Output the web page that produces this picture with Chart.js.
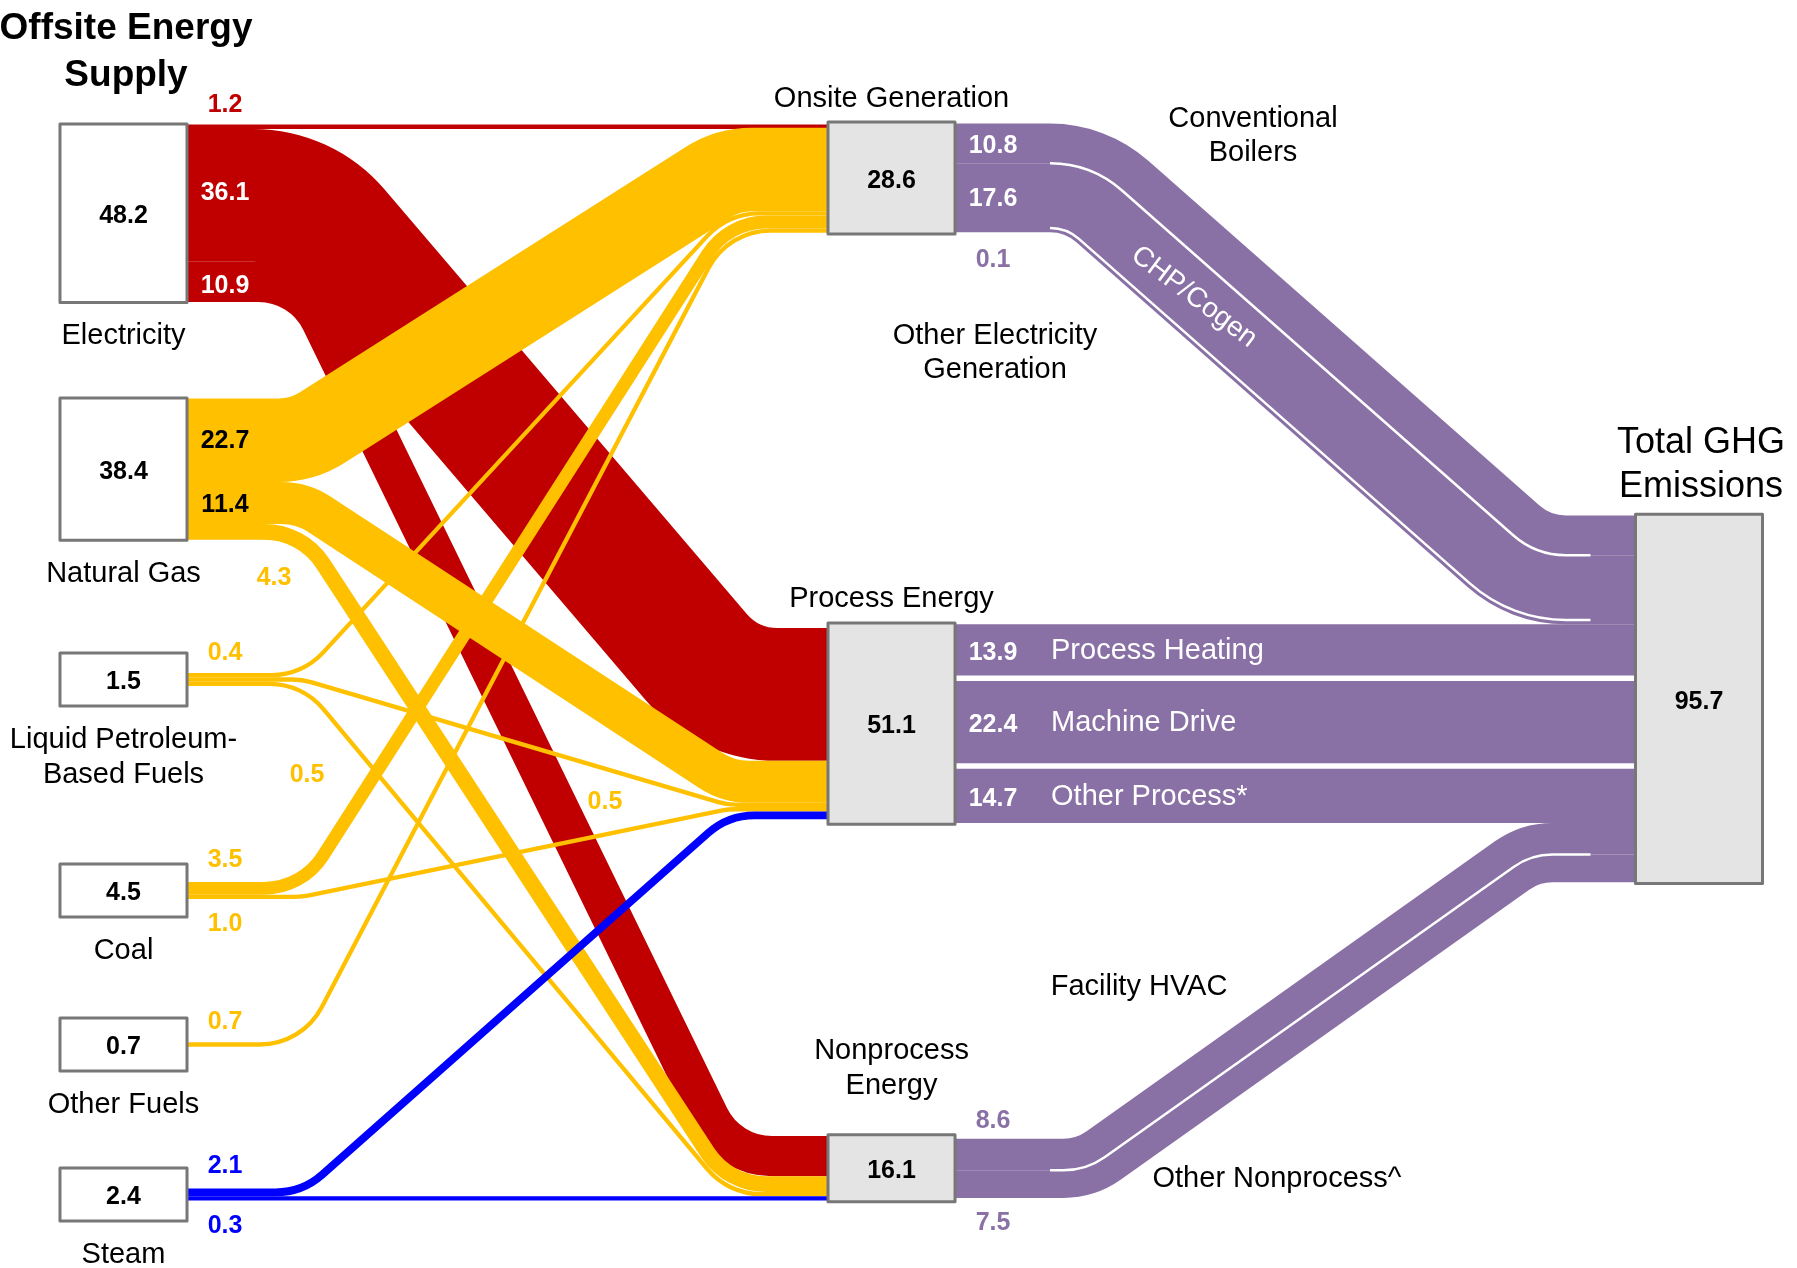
<!DOCTYPE html>
<html>
<head>
<meta charset="utf-8">
<script src="https://cdn.jsdelivr.net/npm/chart.js@4.4.1/dist/chart.umd.min.js"></script>
<style>
html,body{margin:0;padding:0;background:#ffffff;}
#wrap{position:relative;width:1797px;height:1268px;}
</style>
</head>
<body>
<div id="wrap"><canvas id="c" width="1797" height="1268"></canvas></div>
<script>
// ================= DATA =================
const chartTitle    = 'Offsite Energy\nSupply';
const sourceNames   = ['Electricity', 'Natural Gas', 'Liquid Petroleum-\nBased Fuels', 'Coal', 'Other Fuels', 'Steam'];
const sourceValues  = [48.2, 38.4, 1.5, 4.5, 0.7, 2.4];
const middleNames   = ['Onsite Generation', 'Process Energy', 'Nonprocess\nEnergy'];
const middleValues  = [28.6, 51.1, 16.1];
const totalName     = 'Total GHG\nEmissions';
const totalValue    = 95.7;
// flows from each source (same order as sourceNames) into the middle nodes
const toOnsite      = [1.2, 22.7, 0.4, 3.5, 0.7, 0];
const toProcess     = [36.1, 11.4, 0.5, 1.0, 0, 2.1];
const toNonprocess  = [10.9, 4.3, 0.5, 0, 0, 0.3];
// end uses: flows from middle nodes into total
const endUseNames   = ['Conventional\nBoilers', 'CHP/Cogen', 'Other Electricity\nGeneration', 'Process Heating', 'Machine Drive', 'Other Process*', 'Facility HVAC', 'Other Nonprocess^'];
const endUseFrom    = [0, 0, 0, 1, 1, 1, 2, 2];
const endUseValues  = [10.8, 17.6, 0.1, 13.9, 22.4, 14.7, 8.6, 7.5];

// ================= LAYOUT / STYLE =================
const Y_MAX = 344.57;                 // value units covered by the canvas height
const X_MIN = -0.1608, X_MAX = 2.1790; // column units
const COL_X = [0, 1, 2.0514];
const BOX_W = 0.1654;
const SOURCE_TOP = [33.70, 108.15, 177.45, 234.78, 276.63, 317.39];
const MIDDLE_TOP = [33.15, 169.29, 308.37];
const TOTAL_TOP = 139.72;
const MIN_FLOW = 1.17, MIN_BOX = 14.4, SRC_PAD = 0.27, MID_PAD = 0.68;
const MID_OUT_GAP = [0, 1.5, 0];
const MID_LABEL_GAP = [23, 24, 49];
const LEFT_BEND = [0.150, 0.130];
const RIGHT_BEND = [0.170, 0.137];
const SOURCE_COLORS = ['#C00000', '#FFC000', '#FFC000', '#FFC000', '#FFC000', '#0000FF'];
const PURPLE = '#8970A5';
const BORDER = '#777777';
const MID_FILL = '#E4E4E4';
const FONT = "'Liberation Sans', Arial, Helvetica, sans-serif";
const BOLD_DY = 3;
const ROT_LABEL_DEG = 37;
// label placement for left flows (in order of generation): [anchor, dx px, dy px, color]
const LEFT_LABELS = [
  ['src', 38, -25, '#C00000'],
  ['src', 38, -5, '#FFFFFF'],
  ['src', 38, 1, '#FFFFFF'],
  ['src', 38, -2, '#000000'],
  ['src', 38, -1, '#000000'],
  ['src', 87, 43, '#FFC000'],
  ['src', 38, -25, '#FFC000'],
  ['tgt', -223, -6, '#FFC000'],
  ['src', 120, 88, '#FFC000'],
  ['src', 38, -31, '#FFC000'],
  ['src', 38, 24, '#FFC000'],
  ['src', 38, -25, '#FFC000'],
  ['src', 38, -29, '#0000FF'],
  ['src', 38, 25, '#0000FF']
];
const RIGHT_LABELS = [[0, '#FFFFFF'], [0, '#FFFFFF'], [27, PURPLE], [0, '#FFFFFF'], [0, '#FFFFFF'], [0, '#FFFFFF'], [-36, PURPLE], [36, PURPLE]];
const END_LABEL_POS = [[1.4707, 32.3], null, [1.1348, 91.3], null, null, null, [1.3223, 268.2], [1.5019, 320.4]];
const TITLE_POS = [0.0033, 7.75];

function centerPath(ctx, xs, xt, y0, y1, a, b, R, d) {
  ctx.beginPath();
  if (Math.abs(y1 - y0) < 1.5) { ctx.moveTo(xs, y0 + d); ctx.lineTo(xt, y0 + d); return; }
  const c1x = xs + a, c2x = xt - b;
  const dx = c2x - c1x, dy = y1 - y0;
  const L = Math.hypot(dx, dy);
  const ux = dx / L, uy = dy / L;
  const nx = -uy, ny = ux;
  const px = c1x + d * nx, py = y0 + d * ny;
  const s1 = (y0 + d - py) / uy, s2 = (y1 + d - py) / uy;
  const k1x = px + s1 * ux, k1y = y0 + d;
  const k2x = px + s2 * ux, k2y = y1 + d;
  const theta = Math.atan2(Math.abs(dy), dx);
  const tanH = Math.tan(theta / 2);
  const sg = dy > 0 ? 1 : -1;
  const Lk = Math.hypot(k2x - k1x, k2y - k1y);
  let r1 = R - sg * d, r2 = R + sg * d;
  r1 = Math.max(0, Math.min(r1, Math.min(k1x - xs, Lk / 2) * 0.98 / tanH));
  r2 = Math.max(0, Math.min(r2, Math.min(xt - k2x, Lk / 2) * 0.98 / tanH));
  ctx.moveTo(xs, y0 + d);
  ctx.arcTo(k1x, k1y, k2x, k2y, r1);
  ctx.arcTo(k2x, k2y, xt, y1 + d, r2);
  ctx.lineTo(xt, y1 + d);
}

function drawLines(ctx, text, x, y, lh, align) {
  text.split('\n').forEach((t, i) => { ctx.textAlign = align || 'center'; ctx.fillText(t, x, y + i * lh); });
}

const sankeyPlugin = {
  id: 'sankeyDraw',
  afterDatasetsDraw(chart) {
    const ctx = chart.ctx, sx = chart.scales.x, sy = chart.scales.y;
    const X = v => sx.getPixelForValue(v), Y = v => sy.getPixelForValue(v);
    const H = v => Math.abs(Y(v) - Y(0));
    const W = v => Math.abs(X(v) - X(0));
    const th = v => Math.max(H(v), H(MIN_FLOW));

    const targetsArr = [toOnsite, toProcess, toNonprocess];
    const left = [];
    sourceNames.forEach((n, i) => targetsArr.forEach((arr, j) => { if (arr[i] > 0) left.push({ s: i, t: j, v: arr[i], w: th(arr[i]) }); }));
    const right = endUseValues.map((v, k) => ({ k, s: endUseFrom[k], v, w: th(v) }));

    const src = sourceNames.map((n, i) => {
      const outs = left.filter(l => l.s === i);
      const sum = outs.reduce((a, l) => a + l.w, 0);
      const h = Math.max(sum + H(SRC_PAD), H(MIN_BOX));
      const top = Y(SOURCE_TOP[i]);
      let y = top + (h - sum) / 2;
      outs.forEach(l => { l.y0 = y; y += l.w; });
      return { x0: X(COL_X[0] - BOX_W / 2), x1: X(COL_X[0] + BOX_W / 2), top, h };
    });
    const mid = middleNames.map((n, j) => {
      const ins = left.filter(l => l.t === j);
      const outs = right.filter(r => r.s === j);
      const gap = H(MID_OUT_GAP[j]);
      const sumIn = ins.reduce((a, l) => a + l.w, 0);
      const sumOut = outs.reduce((a, r) => a + r.w, 0) + gap * (outs.length - 1);
      const h = Math.max(sumIn, sumOut) + H(MID_PAD);
      const top = Y(MIDDLE_TOP[j]);
      let y = top + (h - sumIn) / 2; ins.forEach(l => { l.y1 = y; y += l.w; });
      y = top + (h - sumOut) / 2; outs.forEach(r => { r.y0 = y; y += r.w + gap; });
      return { x0: X(COL_X[1] - BOX_W / 2), x1: X(COL_X[1] + BOX_W / 2), top, h };
    });
    let sumT = 0;
    right.forEach((r, i) => { sumT += r.w; if (i > 0 && right[i - 1].s === r.s) sumT += H(MID_OUT_GAP[r.s]); });
    const tot = { x0: X(COL_X[2] - BOX_W / 2), x1: X(COL_X[2] + BOX_W / 2), top: Y(TOTAL_TOP), h: sumT + H(MID_PAD) };
    let yy = tot.top + (tot.h - sumT) / 2;
    right.forEach((r, i) => { if (i > 0 && right[i - 1].s === r.s) yy += H(MID_OUT_GAP[r.s]); r.y1 = yy; yy += r.w; });

    ctx.save();
    ctx.lineCap = 'butt'; ctx.lineJoin = 'round';
    // left flows
    left.forEach(l => {
      const xs = src[l.s].x1, xt = mid[l.t].x0;
      const R = Math.max(70, l.w / 2 + 40);
      centerPath(ctx, xs, xt, l.y0 + l.w / 2, l.y1 + l.w / 2, W(LEFT_BEND[0]), W(LEFT_BEND[1]), R, 0);
      ctx.strokeStyle = SOURCE_COLORS[l.s]; ctx.lineWidth = l.w; ctx.stroke();
    });
    // right flows, grouped by middle node
    middleNames.forEach((n, j) => {
      const strips = right.filter(r => r.s === j);
      const first = strips[0], last = strips[strips.length - 1];
      const g0 = (first.y0 + last.y0 + last.w) / 2, g1 = (first.y1 + last.y1 + last.w) / 2;
      const gT = last.y0 + last.w - first.y0;
      const R = Math.max(70, gT / 2 + 40);
      const xs = mid[j].x1, xt = tot.x0, a = W(RIGHT_BEND[0]), b = W(RIGHT_BEND[1]);
      strips.forEach(r => {
        const d = r.y0 + r.w / 2 - g0;
        r.geo = { xs, xt, g0, g1, a, b, R, d };
        centerPath(ctx, xs, xt, g0, g1, a, b, R, d);
        ctx.strokeStyle = PURPLE; ctx.lineWidth = r.w; ctx.stroke();
      });
      if (MID_OUT_GAP[j] === 0) {
        strips.forEach((r, i) => {
          if (i === 0) return;
          ctx.save();
          ctx.beginPath(); ctx.rect(xs + 95, 0, (xt - 45) - (xs + 95), chart.height); ctx.clip();
          centerPath(ctx, xs, xt, g0, g1, a, b, R, r.y0 - g0);
          ctx.strokeStyle = '#FFFFFF'; ctx.lineWidth = 2.5; ctx.stroke();
          ctx.restore();
        });
      }
    });

    // boxes
    const box = (n, fill) => {
      ctx.fillStyle = fill; ctx.fillRect(n.x0, n.top, n.x1 - n.x0, n.h);
      ctx.strokeStyle = BORDER; ctx.lineWidth = 3; ctx.strokeRect(n.x0, n.top, n.x1 - n.x0, n.h);
    };
    src.forEach(n => box(n, '#FFFFFF'));
    mid.forEach(n => box(n, MID_FILL));
    box(tot, MID_FILL);

    ctx.textBaseline = 'middle';
    // title
    ctx.fillStyle = '#000'; ctx.font = 'bold 37px ' + FONT;
    drawLines(ctx, chartTitle, X(TITLE_POS[0]), Y(TITLE_POS[1]), 47);
    // node names & values
    ctx.font = '29px ' + FONT;
    src.forEach((n, i) => drawLines(ctx, sourceNames[i], (n.x0 + n.x1) / 2, n.top + n.h + 34, 35));
    mid.forEach((n, j) => {
      const lines = middleNames[j].split('\n').length;
      drawLines(ctx, middleNames[j], (n.x0 + n.x1) / 2, n.top - MID_LABEL_GAP[j] - (lines - 1) * 35, 35);
    });
    ctx.font = '36px ' + FONT;
    drawLines(ctx, totalName, (tot.x0 + tot.x1) / 2 + 2, tot.top - 27 - 44, 44);
    ctx.font = 'bold 25px ' + FONT;
    src.forEach((n, i) => { ctx.textAlign = 'center'; ctx.fillText(sourceValues[i].toFixed(1), (n.x0 + n.x1) / 2, n.top + n.h / 2 + BOLD_DY); });
    mid.forEach((n, j) => { ctx.textAlign = 'center'; ctx.fillText(middleValues[j].toFixed(1), (n.x0 + n.x1) / 2, n.top + n.h / 2 + BOLD_DY); });
    ctx.fillText(totalValue.toFixed(1), (tot.x0 + tot.x1) / 2, tot.top + tot.h / 2 + BOLD_DY);

    // left flow labels
    left.forEach((l, i) => {
      const sp = LEFT_LABELS[i];
      ctx.fillStyle = sp[3]; ctx.textAlign = 'center';
      if (sp[0] === 'src') ctx.fillText(l.v.toFixed(1), src[l.s].x1 + sp[1], l.y0 + l.w / 2 + sp[2] + BOLD_DY);
      else ctx.fillText(l.v.toFixed(1), mid[l.t].x0 + sp[1], l.y1 + l.w / 2 + sp[2] + BOLD_DY);
    });
    // right flow labels
    right.forEach((r, k) => {
      const sp = RIGHT_LABELS[k];
      ctx.font = 'bold 25px ' + FONT;
      ctx.fillStyle = sp[1]; ctx.textAlign = 'center';
      ctx.fillText(r.v.toFixed(1), mid[r.s].x1 + 38, r.y0 + r.w / 2 + sp[0] + BOLD_DY);
      ctx.font = '29px ' + FONT;
      if (MID_OUT_GAP[r.s] > 0) {
        ctx.fillStyle = '#FFFFFF'; ctx.textAlign = 'left';
        ctx.fillText(endUseNames[k], mid[r.s].x1 + 96, r.y0 + r.w / 2 + 1);
      } else if (END_LABEL_POS[k]) {
        ctx.fillStyle = '#000';
        drawLines(ctx, endUseNames[k], X(END_LABEL_POS[k][0]), Y(END_LABEL_POS[k][1]), 34);
      } else {
        // rotated label along its strip
        const g = r.geo;
        const c1x = g.xs + g.a, c2x = g.xt - g.b;
        const ang = Math.atan2(g.g1 - g.g0, c2x - c1x);
        const f = 0.27;
        const cx = c1x + (c2x - c1x) * f, cy = g.g0 + (g.g1 - g.g0) * f;
        const nx = -Math.sin(ang), ny = Math.cos(ang);
        ctx.save();
        ctx.translate(cx + g.d * nx, cy + g.d * ny);
        ctx.rotate(ROT_LABEL_DEG * Math.PI / 180);
        ctx.font = '28px ' + FONT;
        ctx.fillStyle = '#FFFFFF'; ctx.textAlign = 'center';
        ctx.fillText(endUseNames[k], 0, 0);
        ctx.restore();
      }
    });
    ctx.restore();
  }
};

const nodePoints = [];
sourceNames.forEach((n, i) => nodePoints.push({ x: COL_X[0], y: SOURCE_TOP[i] }));
middleNames.forEach((n, j) => nodePoints.push({ x: COL_X[1], y: MIDDLE_TOP[j] }));
nodePoints.push({ x: COL_X[2], y: TOTAL_TOP });

new Chart(document.getElementById('c'), {
  type: 'scatter',
  data: { datasets: [{ data: nodePoints, pointRadius: 0, pointHoverRadius: 0, showLine: false }] },
  options: {
    responsive: false, animation: false, devicePixelRatio: 1,
    layout: { padding: 0 },
    events: [],
    plugins: { legend: { display: false }, tooltip: { enabled: false }, title: { display: false } },
    scales: {
      x: { type: 'linear', display: false, min: X_MIN, max: X_MAX },
      y: { type: 'linear', display: false, min: 0, max: Y_MAX, reverse: true }
    }
  },
  plugins: [sankeyPlugin]
});
</script>
</body>
</html>
